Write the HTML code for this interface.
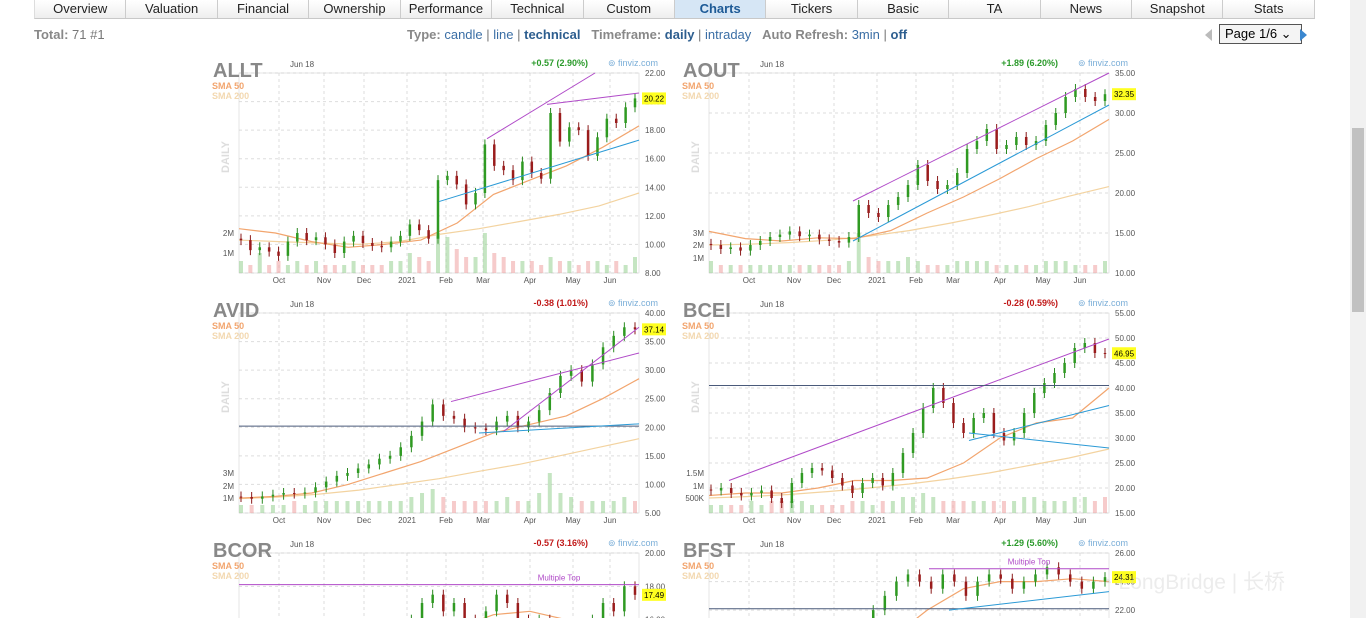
<!DOCTYPE html>
<html><head><meta charset="utf-8">
<style>
body{margin:0;width:1366px;height:618px;overflow:hidden;background:#fff;font-family:"Liberation Sans","Noto Sans CJK SC",sans-serif;position:relative}
.nav{position:absolute;left:34px;top:0;width:1280px;height:18px;display:flex;border-bottom:1px solid #c8c8c8;border-left:1px solid #ddd}
.nav div{flex:1;text-align:center;font-size:13px;color:#222;line-height:18px;background:linear-gradient(#fff,#eee);border-right:1px solid #ccc}
.nav div.sel{background:#d6e6f5;color:#1d5a96;font-weight:bold}
.bar{position:absolute;top:27px;font-size:13px;color:#777;white-space:nowrap}
.bar b{color:#888}
.bar a{color:#3a6ea5;text-decoration:none}
.bar a.on{font-weight:bold;color:#2d5e8f}
#charts{position:absolute;left:0;top:0;overflow:hidden}
.sb{position:absolute;left:1350px;top:0;width:16px;height:618px;background:#f1f1f1}
.sb div{position:absolute;left:2px;top:128px;width:12px;height:184px;background:#c1c1c1}
</style></head><body>
<div class="nav">
<div>Overview</div><div>Valuation</div><div>Financial</div><div>Ownership</div><div>Performance</div><div>Technical</div><div>Custom</div><div class="sel">Charts</div><div>Tickers</div><div>Basic</div><div>TA</div><div>News</div><div>Snapshot</div><div>Stats</div>
</div>
<div class="bar" style="left:34px"><b>Total:</b> 71 #1</div>
<div class="bar" style="left:407px"><b>Type:</b> <a>candle</a> | <a>line</a> | <a class="on">technical</a> &nbsp;&nbsp;<b>Timeframe:</b> <a class="on">daily</a> | <a>intraday</a> &nbsp;&nbsp;<b>Auto Refresh:</b> <a>3min</a> | <a class="on">off</a></div>
<div style="position:absolute;left:1205px;top:29px;width:0;height:0;border:6px solid transparent;border-right:7px solid #bbb;border-left:0"></div>
<div style="position:absolute;left:1219px;top:24px;width:76px;height:18px;border:1px solid #555;font-size:13px;line-height:18px;padding-left:5px;box-sizing:content-box;background:#f4f4f4">Page 1/6 ⌄</div>
<div style="position:absolute;left:1300px;top:29px;width:0;height:0;border:6px solid transparent;border-left:7px solid #3a87d0;border-right:0"></div>
<svg id="charts" width="1366" height="618"></svg>
<div class="sb"><div></div></div>
<div style="position:absolute;left:1100px;top:566px;font-size:21px;color:rgba(200,200,200,0.35);white-space:nowrap">◔ LongBridge | 长桥</div>
<script>
const NS='http://www.w3.org/2000/svg';
const svg=document.getElementById('charts');
const months=['Oct','Nov','Dec','2021','Feb','Mar','Apr','May','Jun'];
const monthPos=[40,85,125,168,207,244,291,334,371];

const allt_close=[10.3,9.6,9.8,9.5,9.2,10.2,10.8,10.3,10.5,10.0,9.4,10.2,10.6,10.1,9.9,9.8,10.2,10.6,11.4,11.0,10.4,14.5,14.8,14.2,12.8,13.6,17.0,15.5,15.2,14.5,15.8,15.0,14.6,19.2,17.2,18.2,18.0,16.2,17.5,18.8,18.5,19.6,20.22];
const allt_sma50=[11.1,10.8,10.2,9.8,10.0,10.3,11.5,13.5,14.5,15.5,16.8,18.3];
const allt_sma200=[10.3,10.2,10.1,10.0,10.2,10.7,11.1,11.6,12.1,12.7,13.6];
const allt_vol=[.3,.2,.5,.2,.3,.2,.3,.2,.3,.2,.2,.2,.3,.2,.2,.2,.3,.3,.5,.4,.3,1,.9,.6,.4,.4,1,.5,.4,.3,.3,.3,.2,.4,.3,.3,.2,.3,.3,.2,.3,.2,.4];
const aout_close=[13.5,13,13.2,12.8,13.5,14,14.5,14.8,15.2,14.6,14.8,14.2,14.0,13.8,14.5,18.5,17.5,17.0,18.5,19.5,21,23.5,21.5,20.5,21,22.5,25.5,26.5,28,25.5,26,27,26,26.5,28.5,30,32,33,32,31.5,32.35];
const aout_sma50=[15.2,14.3,14.0,14.4,14.3,15.3,17.5,19.5,21.8,24.3,26.5,29.2];
const aout_sma200=[13.5,13.6,13.8,14.1,14.6,15.3,16.2,17.2,18.3,19.6,20.8];
const aout_vol=[.3,.2,.2,.2,.2,.2,.2,.2,.2,.2,.2,.2,.2,.2,.3,1,.4,.3,.3,.3,.4,.3,.2,.2,.2,.3,.3,.3,.3,.2,.2,.2,.2,.2,.3,.3,.3,.2,.2,.2,.3];
const avid_close=[7.8,7.5,7.9,8.2,8.5,8.4,8.6,9.5,10.5,11.5,12,12.8,13.5,14.5,15,16.5,18.5,21,24,22,21.5,20,19.8,19.5,21,22,20,21,23,26,29,30,28,31,34,36,37.5,37.14];
const avid_sma50=[7.6,7.9,8.5,10,12,14,16.5,19,20.5,22,25,28.5];
const avid_sma200=[7.5,7.8,8.3,9,10,11,12.3,13.5,15,16.5,18];
const avid_vol=[.2,.2,.2,.2,.2,.3,.2,.3,.3,.3,.3,.3,.3,.3,.3,.3,.4,.5,.6,.4,.3,.3,.3,.3,.3,.4,.3,.3,.5,1,.5,.4,.3,.3,.3,.3,.4,.3];
const bcei_close=[19.5,20,19,18.5,19,19.5,18,17,21,23,24,23.5,22,20.5,19,21,22,20.5,23,27,31,36,40,37,33,31,34,35,31,29.5,31,35,39,41,43,45,48,49,47,46.95];
const bcei_sma50=[18.5,19,19,20,21.5,21.5,22,25,30,33,34,40];
const bcei_sma200=[18,18.3,18.7,19.3,20,20.8,21.8,23,24.5,26,27.8];
const bcei_vol=[.2,.2,.2,.2,.3,.2,.3,.3,.3,.3,.2,.2,.2,.2,.3,.3,.2,.3,.3,.4,.4,.5,.4,.3,.3,.3,.3,.3,.3,.3,.3,.4,.4,.3,.3,.3,.4,.4,.3,.4];
const bcor_close=[10,10.5,10,10.2,10.8,11,11.5,12,12.5,13,12.8,13.5,14,14.5,15,15.5,16,17,17.5,16.5,17,16,15.5,16.5,17.5,17,16,15,16,15.5,15,14.5,15,16,17,16.5,18,17.49];
const bcor_sma50=[10,10.4,11,12,13,14.2,15.5,16.3,16.5,16,15.5,16];
const bcor_sma200=[9.5,9.8,10.2,10.8,11.5,12.2,13,13.7,14.3,14.8,15.2];
const bcor_vol=[.3,.3,.3,.3,.3,.3,.3,.3,.3,.3,.3,.3,.3,.3,.3,.3,.3,.3,.3,.3,.3,.3,.3,.3,.3,.3,.3,.3,.3,.3,.3,.3,.3,.3,.3,.3,.3,.3];
const bfst_close=[15,15.5,15,15.2,15.5,16,16.5,17,17.5,18,18.5,19,20,21,22,23,24,24.5,24,23.5,24.5,24,23,24,24.5,24.2,23.5,24,24.5,25,24.5,24,23.5,24,24.31];
const bfst_sma50=[15,15.3,16,17,18.5,20,22,23.5,24,24,24.2,24];
const bfst_sma200=[14.5,14.8,15.2,15.8,16.5,17.3,18.2,19,19.8,20.5,21.2];
const bfst_vol=[.3,.3,.3,.3,.3,.3,.3,.3,.3,.3,.3,.3,.3,.3,.3,.3,.3,.3,.3,.3,.3,.3,.3,.3,.3,.3,.3,.3,.3,.3,.3,.3,.3,.3,.3];

const charts=[
 {t:'ALLT',col:0,row:0,min:8,max:22,step:2,last:20.22,chg:'+0.57 (2.90%)',up:true,c:allt_close,s50:allt_sma50,s200:allt_sma200,v:allt_vol,vl:[['2M',233],['1M',253]],
  lines:[[0.62,17.4,0.89,22,'#b04ac8'],[0.77,19.8,1,20.6,'#b04ac8'],[0.5,13,1,17.3,'#2b9ad6']]},
 {t:'AOUT',col:1,row:0,min:10,max:35,step:5,last:32.35,chg:'+1.89 (6.20%)',up:true,c:aout_close,s50:aout_sma50,s200:aout_sma200,v:aout_vol,vl:[['3M',233],['2M',245],['1M',258]],
  lines:[[0.36,19,1,35,'#b04ac8'],[0.36,14,1,31,'#2b9ad6']]},
 {t:'AVID',col:0,row:1,min:5,max:40,step:5,last:37.14,chg:'-0.38 (1.01%)',up:false,c:avid_close,s50:avid_sma50,s200:avid_sma200,v:avid_vol,vl:[['3M',473],['2M',486],['1M',498]],
  lines:[[0.53,24.5,1,33,'#b04ac8'],[0.66,19.2,1,37.5,'#b04ac8'],[0,20.2,1,20.2,'#4a5a7a'],[0.6,19,1,20.6,'#2b9ad6']]},
 {t:'BCEI',col:1,row:1,min:15,max:55,step:5,last:46.95,chg:'-0.28 (0.59%)',up:false,c:bcei_close,s50:bcei_sma50,s200:bcei_sma200,v:bcei_vol,vl:[['1.5M',473],['1M',486],['500K',498]],
  lines:[[0.05,21.5,1,49.8,'#b04ac8'],[0,40.5,1,40.5,'#4a5a7a'],[0.65,29.5,1,36.5,'#2b9ad6'],[0.65,31,1,28,'#2b9ad6']]},
 {t:'BCOR',col:0,row:2,min:8,max:20,step:2,last:17.49,chg:'-0.57 (3.16%)',up:false,c:bcor_close,s50:bcor_sma50,s200:bcor_sma200,v:bcor_vol,vl:[],
  lines:[[0,18.1,1,18.1,'#b04ac8']],mt:'Multiple Top'},
 {t:'BFST',col:1,row:2,min:12,max:26,step:2,last:24.31,chg:'+1.29 (5.60%)',up:true,c:bfst_close,s50:bfst_sma50,s200:bfst_sma200,v:bfst_vol,vl:[],
  lines:[[0.55,24.9,1,24.9,'#b04ac8'],[0,22.1,1,22.1,'#4a5a7a'],[0.6,22,1,23.3,'#2b9ad6']],mt:'Multiple Top'}
];

function el(tag,attrs,parent,text){const e=document.createElementNS(NS,tag);for(const k in attrs)e.setAttribute(k,attrs[k]);if(text!==undefined)e.textContent=text;(parent||svg).appendChild(e);return e;}

charts.forEach(ch=>{
 const L=ch.col?709:239, T=73+ch.row*240, W=400, H=200, R=L+W;
 const g=el('g',{});
 
 
 const y=v=>T+H-(v-ch.min)/(ch.max-ch.min)*H;
 const xi=(i,n)=>L+2+i/(n-1)*(W-6);
 const xf=f=>L+f*W;
 for(let v=ch.min;v<=ch.max+1e-9;v+=ch.step){
  el('line',{x1:L,x2:R,y1:y(v),y2:y(v),stroke:'#ddd','stroke-dasharray':'3,3'},g);
  const tl=el('text',{x:R+6,y:y(v)+3,'font-size':8,fill:'#555'},g,v.toFixed(2));
  
  
 }
 months.forEach((m,i)=>{
  el('line',{x1:L+monthPos[i],x2:L+monthPos[i],y1:T,y2:T+H,stroke:'#ddd','stroke-dasharray':'3,3'},g);
  const ml=el('text',{x:L+monthPos[i],y:T+H+10,'font-size':8,fill:'#555','text-anchor':'middle'},g,m);
  
  
 });
 el('rect',{x:L,y:T,width:W,height:H,fill:'none',stroke:'#ccc','stroke-width':0.5},g);
 const n=ch.c.length, bw=2.5;
 ch.v.forEach((vv,i)=>{
  const up=i==0||ch.c[i]>=ch.c[i-1];
  const b=el('rect',{x:xi(i,ch.v.length)-2,y:T+H-vv*40,width:4,height:vv*40,fill:up?'#9fd39a':'#f0a8a8',opacity:0.6},g);
  
  
 });
 ch.vl.forEach(([s,yy])=>{
  const vt=el('text',{x:L-5,y:yy+3,'font-size':8,fill:'#555','text-anchor':'end'},g,s);
  
  
 });
 const smaPath=(arr)=>arr.map((v,i)=>(i?'L':'M')+(L+i/(arr.length-1)*W).toFixed(1)+','+y(v).toFixed(1)).join('');
 const p200=el('path',{d:smaPath(ch.s200),fill:'none',stroke:'#f3d3a0','stroke-width':1.2},g);
 
 
 const p50=el('path',{d:smaPath(ch.s50),fill:'none',stroke:'#f2a56e','stroke-width':1.2},g);
 
 
 const pad=(ch.max-ch.min)*0.025;
 ch.c.forEach((c,i)=>{
  const o=i?ch.c[i-1]:c*1.01, up=c>=o, x=xi(i,n);
  const hi=Math.max(o,c)+pad, lo=Math.min(o,c)-pad;
  const w=el('line',{x1:x,x2:x,y1:y(hi),y2:y(lo),stroke:up?'#2a8a20':'#8a1a1a','stroke-width':1},g);
  
  
  const r=el('rect',{x:x-bw/2,y:y(Math.max(o,c)),width:bw,height:Math.max(1,Math.abs(y(o)-y(c))),fill:up?'#2f9a22':'#9a1c1c'},g);
  
  
 });
 ch.lines.forEach(l=>{
  const tl=el('line',{x1:xf(l[0]),y1:y(l[1]),x2:xf(l[2]),y2:y(l[3]),stroke:l[4],'stroke-width':1},g);
  
  
 });
 if(ch.mt){const mt=el('text',{x:L+W*0.8,y:y(ch.lines[0][1])-4,'font-size':8,fill:'#b04ac8','text-anchor':'middle'},g,ch.mt);
  
  }
 const ly=y(ch.last);
 el('rect',{x:R+3,y:ly-6,width:24,height:12,fill:'#ffff20'},g);
 const lp=el('text',{x:R+5,y:ly+3,'font-size':8,fill:'#000'},g,ch.last.toFixed(2));
 
 
 const tk=el('text',{x:L-26,y:T+4,'font-size':20,'font-weight':'bold',fill:'#888'},g,ch.t);
 
 
 el('text',{x:L+51,y:T-6,'font-size':8,fill:'#555'},g,'Jun 18');
 el('text',{x:L-27,y:T+16,'font-size':9,'font-weight':'bold',fill:'#f2a56e'},g,'SMA 50');
 el('text',{x:L-27,y:T+26,'font-size':9,'font-weight':'bold',fill:'#f3d8b0'},g,'SMA 200');
 el('text',{x:L-10,y:T+100,'font-size':11,'font-weight':'bold',fill:'#ddd',transform:`rotate(-90 ${L-10} ${T+100})`},g,'DAILY');
 const cg=el('text',{x:L+349,y:T-7,'font-size':9,'font-weight':'bold',fill:ch.up?'#2a9a2a':'#c01818','text-anchor':'end'},g,ch.chg);
 
 
 el('text',{x:L+369,y:T-7,'font-size':9,fill:'#7aaed8'},g,'⊚ finviz.com');
});
</script>
</body></html>
